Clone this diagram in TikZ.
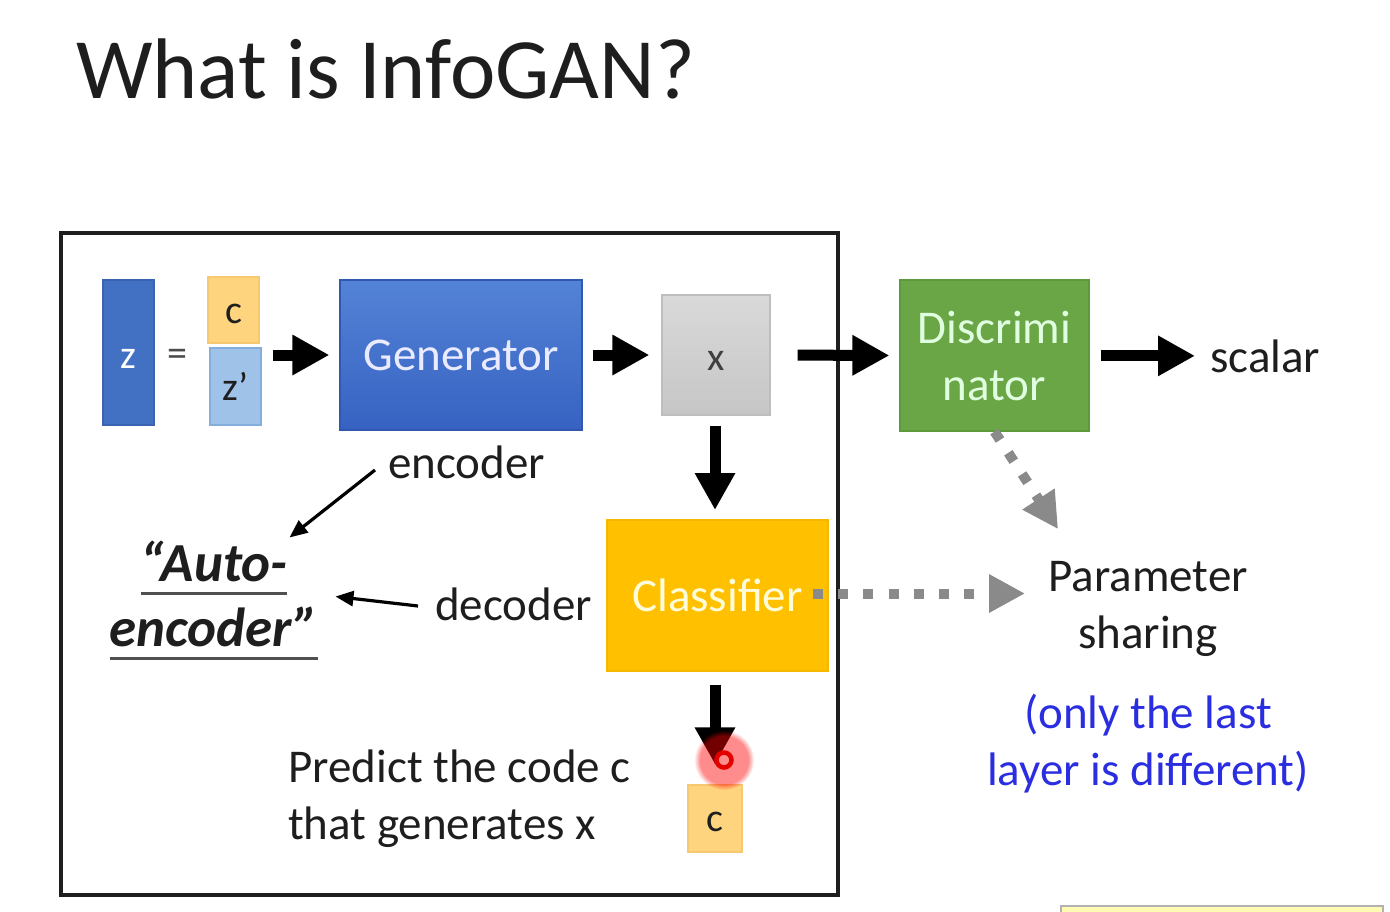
\documentclass[tikz,border=0pt]{standalone}
\usepackage{fontspec}
\setmainfont{Carlito}
\usetikzlibrary{arrows.meta,fadings}

\definecolor{zdark}{HTML}{4270C2}
\definecolor{zdarkline}{HTML}{3A64B2}
\definecolor{codeor}{HTML}{FFD47E}
\definecolor{codeorline}{HTML}{F6C870}
\definecolor{zlight}{HTML}{9FC3E8}
\definecolor{zlightline}{HTML}{86AEDC}
\definecolor{gentop}{HTML}{5383D6}
\definecolor{genbot}{HTML}{3762C2}
\definecolor{xtop}{HTML}{D9D9D9}
\definecolor{xbot}{HTML}{C6C6C6}
\definecolor{xline}{HTML}{BEBEBE}
\definecolor{discgreen}{HTML}{6AA546}
\definecolor{discline}{HTML}{5E9A3C}
\definecolor{clfor}{HTML}{FFC000}
\definecolor{clfline}{HTML}{F5B800}
\definecolor{dotgray}{HTML}{8A8A8A}
\definecolor{bluetext}{HTML}{2A2EE0}
\definecolor{inkdark}{HTML}{1E1E1E}
\definecolor{ulgray}{HTML}{505050}

% underline drawn as a rule under the word, 12pt below the baseline
\newcommand\ulbar[1]{\setbox0\hbox{#1}\rlap{\textcolor{ulgray}{\rule[-14pt]{\wd0}{3pt}}}\box0}

\tikzset{
  body/.style={font=\fontsize{47}{57}\selectfont},
  small/.style={font=\fontsize{40}{48}\selectfont},
  lowletter/.style={text height=#1, text depth=0pt},
  blk/.style={draw, line width=1.2pt, inner sep=0pt, align=center},
  lbl/.style={inner sep=0pt, text=inkdark, body},
  bigarrow/.style={line width=11pt, -{Triangle[length=37pt,width=38pt]}},
  thinarrow/.style={line width=3.2pt, -{Triangle[length=18pt,width=15pt]}},
  dotarrow/.style={draw=dotgray, line width=10pt, dash pattern=on 10pt off 15.3pt,
                   -{Triangle[length=36pt,width=36pt,fill=dotgray]}},
}

\begin{document}
\begin{tikzpicture}[x=1pt,y=-1pt]
\useasboundingbox (0,0) rectangle (1390,911);
\clip (0,0) rectangle (1390,911);
\fill[white] (0,0) rectangle (1390,911);

% title
\node[anchor=base west, inner sep=0pt, text=inkdark, font=\fontsize{86}{100}\selectfont]
  (title) at (76,98) {What is InfoGAN?};

% frame around the generator/classifier part
\draw[line width=4pt, inkdark] (61,233) rectangle (838,895);

% input code
\node[blk, fill=zdark, draw=zdarkline, minimum width=51pt, minimum height=145pt,
      small, text=white, lowletter=31pt] (z) at (128.5,352.5) {z};
\node[inner sep=0pt, small, text=inkdark!80] (eq) at (177,358) {=};
\node[blk, fill=codeor, draw=codeorline, minimum width=51pt, minimum height=66pt,
      small, text=inkdark, lowletter=27pt] (c) at (233.5,310) {c};
\node[blk, fill=zlight, draw=zlightline, minimum width=51pt, minimum height=77pt,
      small, text=inkdark] (zp) at (235.5,386.5) {z’};

% networks
\node[blk, top color=gentop, bottom color=genbot, draw=genbot!90!black,
      minimum width=242pt, minimum height=150pt, body, text=white!92!blue]
  (gen) at (461,355) {Generator};
\node[blk, top color=xtop, bottom color=xbot, draw=xline,
      minimum width=108pt, minimum height=120pt, small, text=inkdark!85, lowletter=30pt]
  (x) at (716,355) {x};
\node[blk, fill=discgreen, draw=discline, minimum width=189pt, minimum height=151pt,
      body, text=white!88!green]
  (disc) at (994.5,355.5) {Discrimi\\nator};
\node[blk, fill=clfor, draw=clfline, minimum width=221pt, minimum height=151pt,
      body, text=white!85!yellow]
  (clf) at (717.5,595.5) {Classifier};
\node[blk, fill=codeor, draw=codeorline, minimum width=54pt, minimum height=67pt,
      small, text=inkdark, lowletter=25pt] (cout) at (715,818.5) {c};

% labels
\node[lbl, anchor=base west] (scalar) at (1210,372) {scalar};
\node[lbl, anchor=base west] (enc) at (388,478) {encoder};
\node[lbl, anchor=base west] (dec) at (435,620) {decoder};
\node[inner sep=0pt, align=center, text=inkdark,
      font=\fontsize{55}{65}\selectfont\bfseries\itshape]
  (auto) at (214,600.5) {\ulbar{“Auto-}\\\ulbar{encoder”}};
\node[lbl, align=center] (param) at (1148,609) {Parameter\\sharing};
\node[lbl, align=center, text=bluetext] (note) at (1148,744)
  {(only the last\\layer is different)};
\node[lbl, align=left, anchor=west] (pred) at (288,798.5)
  {Predict the code c\\that generates x};

% data flow
\draw[bigarrow] (zp.east |- gen.west) -- (gen.west)
  [shorten <=11pt, shorten >=10pt];
\draw[bigarrow, shorten <=10pt, shorten >=12pt] (gen.east) -- (x.west);
\draw[bigarrow, shorten <=27pt, shorten >=10pt] (x.east) -- (disc.west);
\draw[bigarrow, shorten <=11pt, shorten >=15pt] (disc.east |- scalar.west) -- (scalar.west);
\draw[bigarrow, shorten <=10pt, shorten >=10pt] (x.south -| 715,0) -- (715,520);
\draw[bigarrow, shorten <=13pt, shorten >=20pt] (cout.north |- clf.south) -- (cout.north);

% encoder / decoder pointers
\draw[thinarrow] ([shift={(-13,-8)}]enc.base west) -- ([shift={(-29,-3)}]auto.north east);
\draw[thinarrow] ([shift={(-17,-14)}]dec.base west) -- ([shift={(17,-4)}]auto.east);

% parameter sharing
\draw[dotarrow] ([shift={(-16,-2)}]clf.east) -- ([shift={(-23,-2)}]clf.east -| param.west);
\draw[dotarrow] (disc.south) -- ([shift={(10,-32)}]param.north west);

% pointer highlight
\fill[red, opacity=0.45, path fading=circle with fuzzy edge 20 percent] (724,760) circle (30);
\draw[red!90!black, line width=4.5pt] (724,760) circle (7.5);

% edge of the next element
\draw[draw=gray!60, fill=yellow!30, line width=1.2pt] (1061,906) rectangle (1383,930);
\end{tikzpicture}
\end{document}
